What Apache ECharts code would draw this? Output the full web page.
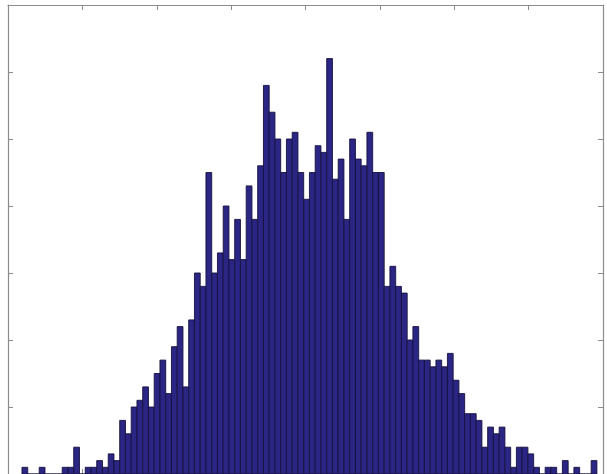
<!DOCTYPE html>
<html>
<head>
<meta charset="utf-8">
<title>Histogram</title>
<script src="https://cdn.jsdelivr.net/npm/echarts@6/dist/echarts.min.js"></script>
<style>
  html, body { margin: 0; padding: 0; background: #ffffff; }
  #chart { width: 607px; height: 474px; }
</style>
</head>
<body>
<div id="chart"></div>
<script>
// 100-bin histogram: counts per bin, left to right
const counts = [
  1, 0, 0, 1, 0, 0, 0, 1, 1, 4,
  0, 1, 1, 2, 1, 3, 2, 8, 6, 10,
  11, 13, 10, 15, 17, 12, 19, 22, 13, 23,
  30, 28, 45, 30, 33, 40, 32, 38, 32, 43,
  38, 46, 58, 54, 50, 45, 50, 51, 45, 41,
  45, 49, 48, 62, 44, 47, 38, 50, 47, 46,
  51, 45, 45, 28, 31, 28, 27, 20, 22, 17,
  17, 16, 17, 16, 18, 14, 12, 9, 9, 8,
  4, 7, 6, 7, 4, 1, 4, 4, 3, 1,
  0, 1, 1, 0, 2, 0, 1, 0, 0, 2
];

// bin layout on the x scale
const binStart = -3.812;
const binWidth = 0.0773;

// axis ranges and tick steps
const xRange = [-4, 4];
const xStep = 1;
const yRange = [0, 70];
const yStep = 10;

const bins = counts.map((c, i) => [binStart + i * binWidth, binStart + (i + 1) * binWidth, c]);

const frameColor = '#8c8c8c';

function axisCommon(min, max, step) {
  return {
    type: 'value',
    min: min,
    max: max,
    interval: step,
    axisLine: { show: true, onZero: false, lineStyle: { color: frameColor, width: 1.2 } },
    axisTick: { show: true, inside: true, length: 5, lineStyle: { color: frameColor, width: 1 } },
    axisLabel: { show: false },
    splitLine: { show: false }
  };
}

const chart = echarts.init(document.getElementById('chart'), null, { renderer: 'canvas' });

chart.setOption({
  animation: false,
  backgroundColor: '#ffffff',
  grid: { left: 8, top: 5, width: 595, height: 471, containLabel: false },
  xAxis: [
    Object.assign(axisCommon(xRange[0], xRange[1], xStep), { position: 'bottom' }),
    Object.assign(axisCommon(xRange[0], xRange[1], xStep), { position: 'top' })
  ],
  yAxis: [
    Object.assign(axisCommon(yRange[0], yRange[1], yStep), { position: 'left' }),
    Object.assign(axisCommon(yRange[0], yRange[1], yStep), { position: 'right' })
  ],
  series: [{
    type: 'custom',
    xAxisIndex: 0,
    yAxisIndex: 0,
    data: bins,
    encode: { x: [0, 1], y: 2 },
    renderItem: function (params, api) {
      const topLeft = api.coord([api.value(0), api.value(2)]);
      const bottomRight = api.coord([api.value(1), 0]);
      return {
        type: 'rect',
        shape: {
          x: topLeft[0],
          y: topLeft[1],
          width: bottomRight[0] - topLeft[0],
          height: bottomRight[1] - topLeft[1]
        },
        style: {
          fill: '#2b2584',
          stroke: '#16123f',
          lineWidth: 0.9
        }
      };
    }
  }]
});
</script>
</body>
</html>
